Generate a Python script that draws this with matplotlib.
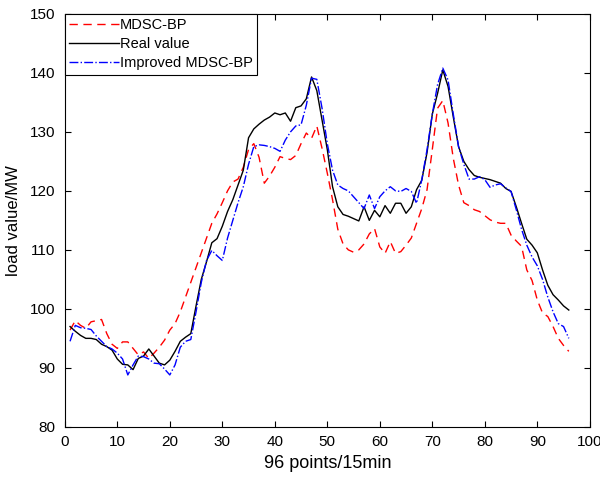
import numpy as np
import matplotlib
matplotlib.use("Agg")
import matplotlib.pyplot as plt

plt.rcParams['font.family'] = ['Liberation Sans', 'DejaVu Sans']

# 96 points, 15 min each
points = list(range(1, 97))

real_value = [
    97.0, 96.2, 95.5, 95.0, 95.0, 94.8, 94.0, 93.6, 93.0, 91.5,
    90.6, 90.5, 89.7, 91.6, 92.0, 93.2, 92.0, 90.8, 90.5, 91.3,
    92.8, 94.5, 95.2, 95.8, 100.5, 105.0, 108.0, 111.2, 111.9, 114.0,
    116.5, 118.5, 121.0, 123.5, 129.0, 130.5, 131.3, 132.0, 132.5, 133.2,
    132.9, 133.2, 131.8, 134.1, 134.4, 135.6, 139.3, 137.0, 132.0, 127.0,
    120.7, 117.3, 116.0, 115.7, 115.3, 114.9, 117.3, 115.0, 116.7, 115.6,
    117.5, 116.2, 117.9, 117.9, 116.2, 117.3, 120.2, 121.8, 126.5, 133.0,
    136.5, 140.5, 137.7, 132.5, 127.5, 125.0, 123.6, 122.6, 122.3, 122.1,
    121.9, 121.6, 121.3, 120.4, 119.9, 117.3, 114.5, 111.8, 110.8, 109.5,
    106.6, 104.0, 102.4, 101.5, 100.5, 99.8,
]

mdsc_bp = [
    96.4, 98.0, 97.2, 96.7, 97.8, 98.0, 98.2, 95.8, 94.0, 93.3,
    94.4, 94.4, 93.3, 92.2, 92.7, 91.6, 92.5, 93.5, 94.7, 96.4,
    97.5, 99.5, 102.0, 104.5, 107.0, 109.5, 112.0, 114.5, 116.1, 118.0,
    120.0, 121.5, 122.0, 124.0, 127.0, 128.0, 125.7, 121.3, 122.5, 124.0,
    125.8, 125.5, 125.3, 126.0, 128.0, 129.8, 128.9, 131.0, 127.2, 123.0,
    118.5, 113.5, 111.0, 110.0, 109.6, 110.0, 111.0, 112.7, 113.6, 110.5,
    109.4, 111.4, 109.4, 109.7, 110.8, 112.0, 114.5, 117.0, 120.2, 127.0,
    134.0, 135.3, 131.5, 125.5, 121.0, 118.0, 117.5, 116.8, 116.5, 115.8,
    115.1, 114.7, 114.5, 114.5, 112.5, 111.5, 110.6, 106.6, 104.8, 101.5,
    99.3, 98.7, 97.0, 95.0, 93.8, 92.8,
]

improved_bp = [
    94.5, 97.2, 96.8, 96.7, 96.5, 95.4, 94.5, 93.6, 93.2, 92.5,
    91.5, 88.8, 90.5, 92.0, 91.9, 91.5, 90.8, 90.7, 89.8, 88.8,
    90.5, 93.5, 94.5, 94.8, 99.5, 104.5, 108.2, 109.9, 109.0, 108.2,
    112.0, 115.0, 118.0, 120.7, 124.5, 127.5, 127.8, 127.7, 127.5, 127.2,
    126.7, 128.6, 130.0, 131.0, 131.2, 134.5, 139.1, 138.9, 134.0, 128.0,
    123.5, 121.0, 120.4, 120.0, 119.0, 118.0, 117.0, 119.3, 117.0, 119.0,
    120.0, 120.7, 120.0, 119.9, 120.4, 119.9, 117.9, 121.9, 127.0, 133.0,
    138.0, 140.8, 138.8, 133.0, 127.5, 124.5, 122.0, 122.0, 122.4, 121.9,
    120.6, 121.0, 121.2, 120.5, 119.9, 116.8, 113.5, 110.8, 108.8, 107.3,
    105.0, 102.0, 99.5, 97.5, 97.0, 95.0,
]

fig = plt.figure(figsize=(6.0, 4.78), dpi=100)
ax = fig.add_axes([0.108, 0.107, 0.875, 0.864])

ax.plot(points, mdsc_bp, 'r--', lw=1.0, dashes=(6, 4), label='MDSC-BP')
ax.plot(points, real_value, 'k-', lw=1.0, label='Real value')
ax.plot(points, improved_bp, 'b-.', lw=1.0, label='Improved MDSC-BP')

ax.set_xlim(0, 100)
ax.set_ylim(80, 150)
ax.set_xticks(np.arange(0, 101, 10))
ax.set_yticks(np.arange(80, 151, 10))
ax.tick_params(direction='in', top=True, right=True, labelsize=11, length=4)
ax.tick_params(axis='x', pad=6)
ax.tick_params(axis='y', pad=7)
for s in ax.spines.values():
    s.set_linewidth(0.8)

ax.set_xlabel('96 points/15min', fontsize=13, labelpad=4)
ax.set_ylabel('load value/MW', fontsize=12, labelpad=6)

leg = ax.legend(loc='upper left', fontsize=10.5, handlelength=3.4, handletextpad=0.1,
                borderaxespad=0.0, fancybox=False, framealpha=1, edgecolor='black',
                borderpad=0.3, labelspacing=0.35)
leg.get_frame().set_linewidth(0.8)

fig.savefig('out.png', dpi=100)
